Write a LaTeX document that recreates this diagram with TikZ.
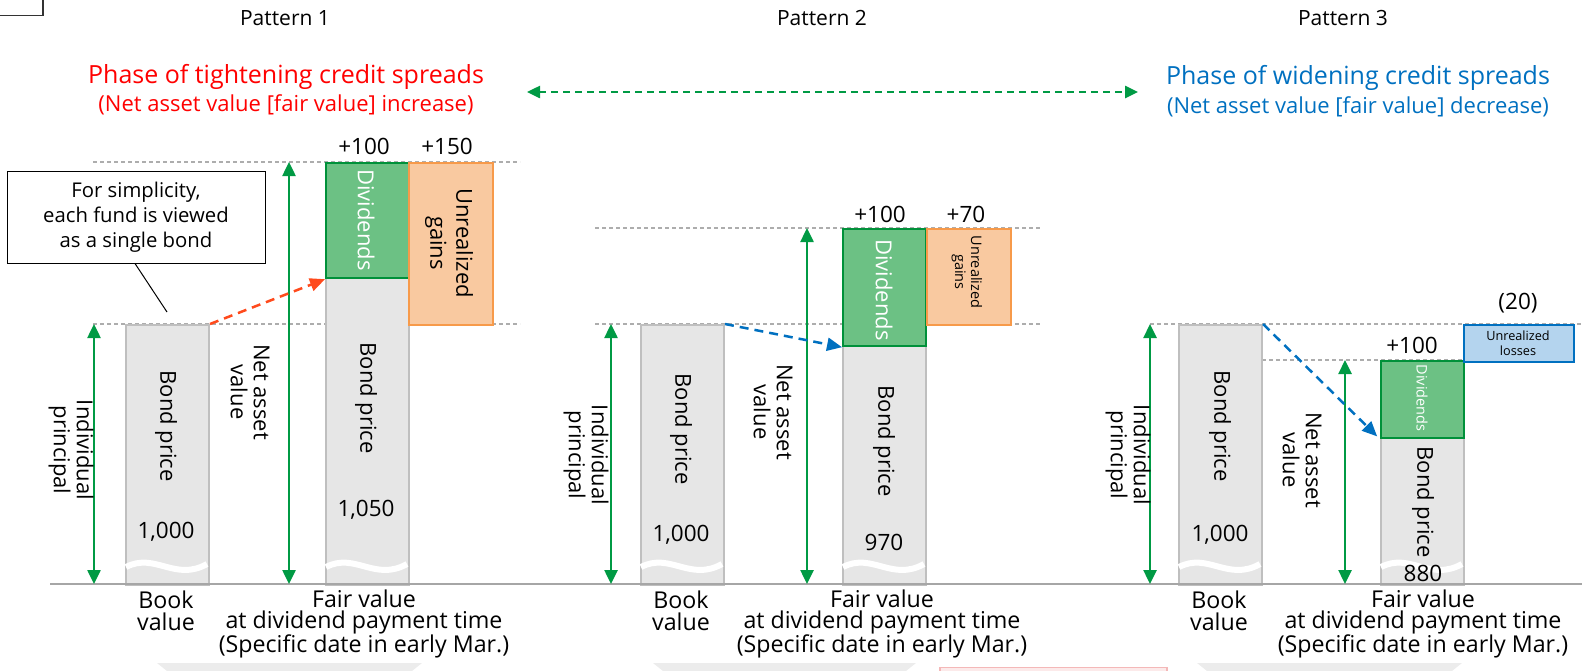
\documentclass[tikz,border=0pt]{standalone}
\usepackage{fontspec}
\setmainfont{Open Sans}
\usetikzlibrary{arrows.meta}
\definecolor{barfill}{HTML}{E6E6E6}
\definecolor{barline}{HTML}{BFBFBF}
\definecolor{divfill}{HTML}{6CC184}
\definecolor{divline}{HTML}{00913A}
\definecolor{gainfill}{HTML}{F9C9A0}
\definecolor{gainline}{HTML}{F79A4A}
\definecolor{lossfill}{HTML}{B4D4EE}
\definecolor{lossline}{HTML}{0070C0}
\definecolor{arrgreen}{HTML}{009A44}
\definecolor{redarrow}{HTML}{FF4A1C}
\definecolor{bluearrow}{HTML}{0070C0}
\definecolor{guidec}{HTML}{ADADAD}
\definecolor{basec}{HTML}{A6A6A6}
\definecolor{phasered}{HTML}{FF0000}
\definecolor{phaseblue}{HTML}{0070C0}
\definecolor{bandc}{HTML}{ECECEC}
\definecolor{pinkc}{HTML}{F4B8B8}
\tikzset{
  barbox/.style={draw=barline, fill=barfill, line width=2pt, minimum width=83pt, inner sep=0pt, anchor=north west},
  divbox/.style={draw=divline, fill=divfill, line width=2.2pt, minimum width=83pt, inner sep=0pt, anchor=north west},
  gainbox/.style={draw=gainline, fill=gainfill, line width=2pt, minimum width=84pt, inner sep=0pt, anchor=north west},
  lossbox/.style={draw=lossline, fill=lossfill, line width=2.2pt, minimum width=110pt, inner sep=0pt, anchor=north west},
  guide/.style={draw=guidec, line width=1.2pt, dash pattern=on 4pt off 3pt},
  garrow/.style={draw=arrgreen, line width=2.5pt, {Triangle[width=13pt,length=14pt]}-{Triangle[width=13pt,length=14pt]}},
  dasharrow/.style={line width=2.5pt, dash pattern=on 9pt off 6pt, -{Triangle[width=13pt,length=15pt]}},
  lbl/.style={font=\fontsize{22.5}{23}\selectfont, inner sep=0pt, align=center},
  rlbl/.style={font=\fontsize{22}{23}\selectfont, inner sep=0pt, align=center, rotate=-90},
  botlbl/.style={font=\fontsize{23.2}{21.5}\selectfont, inner sep=0pt, align=center},
  title/.style={font=\fontsize{21}{21}\selectfont, inner sep=0pt},
  wave/.style={draw=white, line width=6pt},
}
\begin{document}
\begin{tikzpicture}[x=1pt,y=-1pt]
\useasboundingbox (0,0) rectangle (1582,670);
% top-left corner frame
\draw[line width=1.6pt, draw=black!80] (-5,15.5) -- (43,15.5) -- (43,-5);
% bottom bands (cut off)
\fill[bandc] (157,663) -- (422,663) -- (412,671) -- (167,671) -- cycle;
\fill[bandc] (653,663) -- (916,663) -- (906,671) -- (663,671) -- cycle;
\fill[bandc] (1197,663) -- (1462,663) -- (1452,671) -- (1207,671) -- cycle;
\draw[pinkc, line width=1.2pt, fill=pinkc!30] (940,671) -- (940,667.5) -- (1167,667.5) -- (1167,671);

% titles
\node[title] (t1) at (285,18) {Pattern 1};
\node[title] (t2) at (822,18) {Pattern 2};
\node[title] (t3) at (1343,18) {Pattern 3};
\node[font=\fontsize{25}{25}\selectfont, text=phasered, inner sep=0pt] (ph1) at (286,77) {Phase of tightening credit spreads};
\node[font=\fontsize{22}{22}\selectfont, text=phasered, inner sep=0pt] (ph1b) at (286,105) {(Net asset value [fair value] increase)};
\node[font=\fontsize{25}{25}\selectfont, text=phaseblue, inner sep=0pt] (ph3) at (1358,78) {Phase of widening credit spreads};
\node[font=\fontsize{22}{22}\selectfont, text=phaseblue, inner sep=0pt] (ph3b) at (1358,107) {(Net asset value [fair value] decrease)};
\coordinate (gl) at (527,92);
\coordinate (gr) at (1138,92);
\draw[arrgreen, line width=2.5pt, dash pattern=on 7pt off 5pt, {Triangle[width=12pt,length=13pt]}-{Triangle[width=12pt,length=13pt]}] (gl) -- (gr);

% guide lines
\draw[guide] (93,162) -- (520,162);
\draw[guide] (93,324) -- (520,324);
\draw[guide] (595,228) -- (1040,228);
\draw[guide] (595,324) -- (1040,324);
\draw[guide] (1150,324) -- (1582,324);
\draw[guide] (1262,360) -- (1463,360);

% ---------- Pattern 1 ----------
\node[barbox, minimum height=260pt] (b1) at (125,324) {};
\node[barbox, minimum height=307pt] (c1) at (325,277) {};
\node[divbox, minimum height=115pt] (d1) at (325,162) {};
\node[gainbox, minimum height=162pt] (g1) at (408,162) {};
% ---------- Pattern 2 ----------
\node[barbox, minimum height=260pt] (b2) at (640,324) {};
\node[barbox, minimum height=239pt] (c2) at (842,345) {};
\node[divbox, minimum height=117pt] (d2) at (842,228) {};
\node[gainbox, minimum height=96pt] (g2) at (926,228) {};
% ---------- Pattern 3 ----------
\node[barbox, minimum height=260pt] (b3) at (1178,324) {};
\node[barbox, minimum height=147pt] (c3) at (1380,437) {};
\node[divbox, minimum height=77pt] (d3) at (1380,360) {};
\node[lossbox, minimum height=37pt] (l3) at (1463,324) {};

% wavy cuts
\foreach \x in {125,325,640,842,1178,1380}
  \draw[wave] (\x+1,567) .. controls (\x+30,552) and (\x+50,582) .. (\x+82,564);

% baseline
\draw[basec, line width=2pt] (50,584) -- (1582,584);

% green arrows
\coordinate (p1t) at (94,324);   \coordinate (p1b) at (94,584);
\coordinate (n1t) at (289,162);  \coordinate (n1b) at (289,584);
\coordinate (p2t) at (611,324);  \coordinate (p2b) at (611,584);
\coordinate (n2t) at (807,228);  \coordinate (n2b) at (807,584);
\coordinate (p3t) at (1150,324); \coordinate (p3b) at (1150,584);
\coordinate (n3t) at (1345,360); \coordinate (n3b) at (1345,584);
\draw[garrow] (p1t) -- (p1b);
\draw[garrow] (n1t) -- (n1b);
\draw[garrow] (p2t) -- (p2b);
\draw[garrow] (n2t) -- (n2b);
\draw[garrow] (p3t) -- (p3b);
\draw[garrow] (n3t) -- (n3b);

% dashed move arrows
\draw[dasharrow, redarrow] (b1.north east) -- (d1.south west);
\draw[dasharrow, bluearrow] (b2.north east) -- (d2.south west);
\draw[dasharrow, bluearrow, shorten >=4pt] (b3.north east) -- (d3.south west);

% callout
\node[draw=black, line width=1pt, fill=white, minimum width=258pt, minimum height=92pt, inner sep=0pt, align=center, font=\fontsize{20.3}{25}\selectfont] (call) at (136,217) {For simplicity,\\each fund is viewed\\as a single bond};
\coordinate (callp) at (167,312);
\draw[line width=1pt] (call.south) ++(-1,0) coordinate (calls) -- (callp);

% ---------- texts Pattern 1 ----------
\node[rlbl] (ip1) at (71,450) {Individual\\principal};
\node[rlbl] (bp1) at (166,426) {Bond price};
\node[lbl] (v1) at (166,532) {1,000};
\node[rlbl] (na1) at (250,392) {Net asset\\value};
\node[rlbl, text=white] (dt1) at (366,220) {Dividends};
\node[rlbl] (bq1) at (366,398) {Bond price};
\node[lbl] (w1) at (366,510) {1,050};
\node[rlbl, font=\fontsize{22}{26}\selectfont] (ug1) at (449,243) {Unrealized\\gains};
\node[lbl] (pl1) at (364,146) {+100};
\node[lbl] (pg1) at (447,146) {+150};
\node[botlbl] (bv1) at (166,611) {Book\\value};
\node[botlbl] (fv1) at (364,624) {Fair value\\at dividend payment time\\(Specific date in early Mar.)};

% ---------- texts Pattern 2 ----------
\node[rlbl] (ip2) at (586,455) {Individual\\principal};
\node[rlbl] (bp2) at (681,429) {Bond price};
\node[lbl] (v2) at (681,535) {1,000};
\node[rlbl] (na2) at (773,412) {Net asset\\value};
\node[rlbl, text=white] (dt2) at (884,290) {Dividends};
\node[rlbl, font=\fontsize{14.5}{16}\selectfont] (ug2) at (967,272) {Unrealized\\gains};
\node[rlbl] (bq2) at (884,441) {Bond price};
\node[lbl] (w2) at (884,542) {970};
\node[lbl] (pl2) at (880,214) {+100};
\node[lbl] (pg2) at (966,214) {+70};
\node[botlbl] (bv2) at (681,611) {Book\\value};
\node[botlbl] (fv2) at (882,624) {Fair value\\at dividend payment time\\(Specific date in early Mar.)};

% ---------- texts Pattern 3 ----------
\node[rlbl] (ip3) at (1128,455) {Individual\\principal};
\node[rlbl] (bp3) at (1220,426) {Bond price};
\node[lbl] (v3) at (1220,535) {1,000};
\node[rlbl] (na3) at (1302,460) {Net asset\\value};
\node[rlbl, text=white, font=\fontsize{14.5}{15}\selectfont] (dt3) at (1422,398) {Dividends};
\node[rlbl] (bq3) at (1423,502) {Bond price};
\node[lbl] (w3) at (1423,573) {880};
\node[lbl] (pl3) at (1412,345) {+100};
\node[lbl] (pg3) at (1518,303) {(20)};
\node[lbl, font=\fontsize{12.7}{15}\selectfont] (ul3) at (1518,343) {Unrealized\\losses};
\node[botlbl] (bv3) at (1219,611) {Book\\value};
\node[botlbl] (fv3) at (1423,624) {Fair value\\at dividend payment time\\(Specific date in early Mar.)};
\end{tikzpicture}
\end{document}
